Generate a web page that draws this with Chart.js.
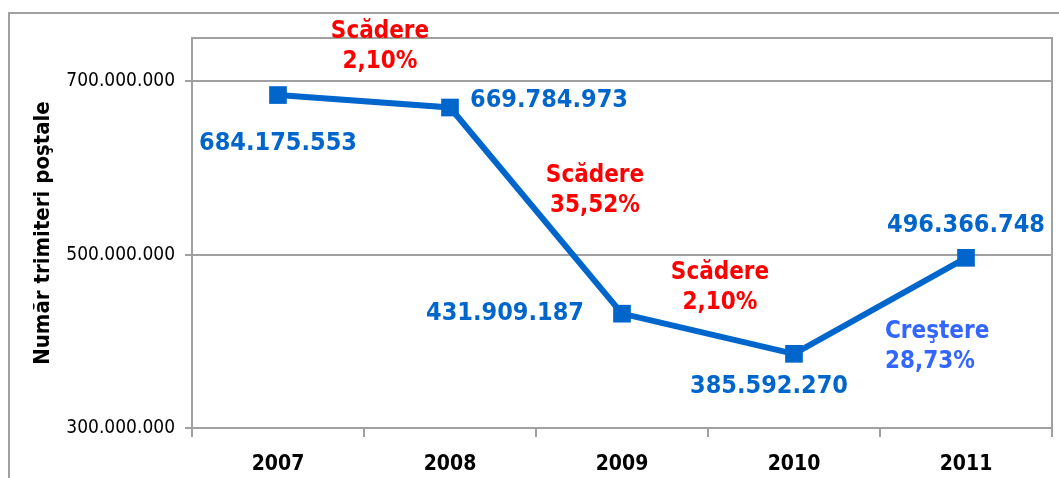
<!DOCTYPE html>
<html>
<head>
<meta charset="utf-8">
<script src="https://cdn.jsdelivr.net/npm/chart.js@4.4.1/dist/chart.umd.min.js"></script>
<style>
    html, body { margin: 0; padding: 0; background: #fff; overflow: hidden; }
    #wrap { width: 1059px; height: 478px; position: relative; }
</style>
</head>
<body>
<div id="wrap"><canvas id="postChart"></canvas></div>
<script>
const years = ['2007', '2008', '2009', '2010', '2011'];
const shipments = [684175553, 669784973, 431909187, 385592270, 496366748];
const yTicks = [300000000, 500000000, 700000000];
const changeWords = ['Scădere', 'Scădere', 'Scădere', 'Creştere'];
const changePercents = ['2,10%', '35,52%', '2,10%', '28,73%'];

const BLUE = '#0066cc';
const GRID = '#a0a0a0';
const FONT = '"DejaVu Sans Condensed", "DejaVu Sans", sans-serif';

// offsets (px) of the text labels from their anchor point
const valueOffsets = [
    { dx: 0, dy: 48, align: 'center' },
    { dx: 20, dy: -7, align: 'left' },
    { dx: -38, dy: 0, align: 'right' },
    { dx: -25, dy: 33, align: 'center' },
    { dx: 0, dy: -32, align: 'center' }
];
const changeOffsets = [
    { dx: 16, dy: -70, align: 'center' },
    { dx: 59, dy: -35, align: 'center' },
    { dx: 12, dy: -61, align: 'center' },
    { dx: 5, dy: 26, align: 'left' }
];

function formatDots(n) {
    return String(n).replace(/\B(?=(\d{3})+(?!\d))/g, '.');
}

const framePlugin = {
    id: 'frame',
    beforeDraw(chart) {
        const ctx = chart.ctx;
        ctx.save();
        ctx.strokeStyle = GRID;
        ctx.lineWidth = 2;
        ctx.strokeRect(9, 13, 1200, 700);
        ctx.restore();
    },
    afterDatasetsDraw(chart) {
        const { ctx, chartArea } = chart;
        const meta = chart.getDatasetMeta(0);
        ctx.save();
        ctx.strokeStyle = GRID;
        ctx.lineWidth = 2;
        ctx.beginPath();
        ctx.moveTo(chartArea.left, chartArea.top);
        ctx.lineTo(chartArea.right, chartArea.top);
        ctx.lineTo(chartArea.right, chartArea.bottom);
        ctx.stroke();

        ctx.textBaseline = 'middle';
        ctx.font = 'bold 25px ' + FONT;
        ctx.fillStyle = BLUE;
        meta.data.forEach((pt, i) => {
            const o = valueOffsets[i];
            ctx.textAlign = o.align;
            ctx.fillText(formatDots(shipments[i]), pt.x + o.dx, pt.y + o.dy);
        });

        for (let i = 0; i < changeWords.length; i++) {
            const a = meta.data[i], b = meta.data[i + 1];
            const o = changeOffsets[i];
            const x = (a.x + b.x) / 2 + o.dx;
            const y = (a.y + b.y) / 2 + o.dy;
            const up = shipments[i + 1] > shipments[i];
            ctx.fillStyle = up ? '#3366ff' : '#ff0000';
            ctx.textAlign = o.align;
            ctx.font = 'bold 24px ' + FONT;
            ctx.fillText(changeWords[i], x, y);
            ctx.fillText(changePercents[i], x, y + 30);
        }
        ctx.restore();
    }
};

new Chart(document.getElementById('postChart'), {
    type: 'line',
    data: {
        labels: years,
        datasets: [{
            data: shipments,
            borderColor: BLUE,
            backgroundColor: BLUE,
            borderWidth: 6,
            pointStyle: 'rect',
            pointRadius: 12.5,
            pointBorderWidth: 0,
            tension: 0,
            clip: false
        }]
    },
    options: {
        responsive: true,
        maintainAspectRatio: false,
        animation: false,
        layout: {
            autoPadding: false,
            padding: { top: 38, right: 7, left: 0, bottom: 0 }
        },
        plugins: {
            legend: { display: false },
            tooltip: { enabled: false }
        },
        scales: {
            x: {
                offset: true,
                grid: {
                    offset: true,
                    drawOnChartArea: false,
                    drawTicks: true,
                    tickLength: 9,
                    color: GRID,
                    lineWidth: 2
                },
                border: { display: true, color: GRID, width: 2 },
                ticks: {
                    color: '#000',
                    padding: 15,
                    font: { family: FONT, size: 21, weight: 'bold' }
                },
                afterFit: (scale) => {
                    scale.height = 50;
                    scale.paddingLeft = 0;
                    scale.paddingRight = 0;
                }
            },
            y: {
                min: 300000000,
                max: 750000000,
                afterBuildTicks: (axis) => {
                    axis.ticks = yTicks.map(v => ({ value: v }));
                },
                grid: {
                    color: GRID,
                    lineWidth: 2,
                    drawTicks: true,
                    tickLength: 7
                },
                border: { display: true, color: GRID, width: 2 },
                ticks: {
                    color: '#000',
                    padding: 10,
                    font: { family: FONT, size: 19 },
                    callback: (v) => formatDots(v)
                },
                title: {
                    display: true,
                    text: 'Număr trimiteri poştale',
                    color: '#000',
                    padding: { top: 30, bottom: 0 },
                    font: { family: FONT, size: 22, weight: 'bold' }
                },
                afterFit: (scale) => { scale.width = 192; }
            }
        }
    },
    plugins: [framePlugin]
});
</script>
</body>
</html>
